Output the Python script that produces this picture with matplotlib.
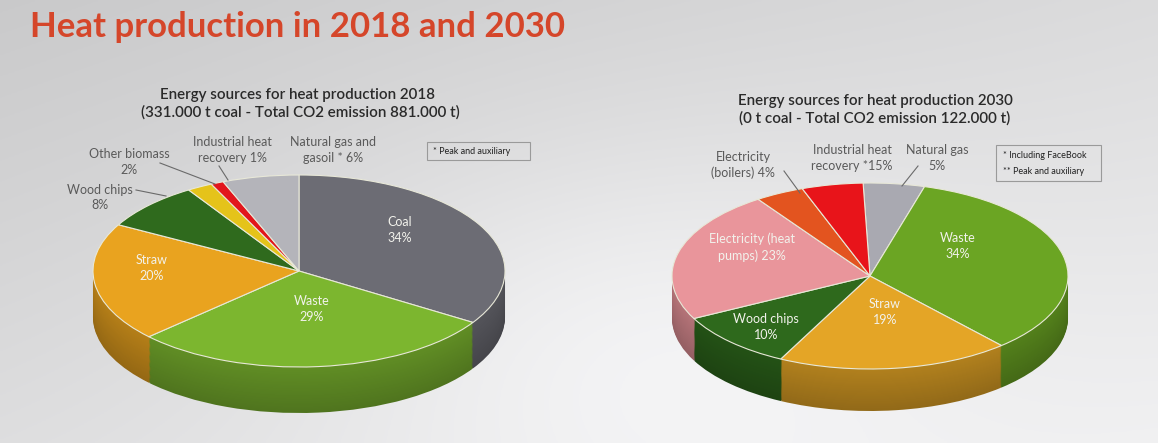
import numpy as np
import matplotlib
matplotlib.use("Agg")
import matplotlib.pyplot as plt
from matplotlib.colors import to_rgb
from matplotlib.patches import Rectangle

plt.rcParams['font.family'] = ['Lato', 'DejaVu Sans']

# data 2018
labels_2018 = ['Coal', 'Waste', 'Straw', 'Wood chips', 'Other biomass',
               'Industrial heat recovery', 'Natural gas and gasoil']
values_2018 = [34, 29, 20, 8, 2, 1, 6]
colors_2018 = ['#6c6c74', '#7cb62f', '#e9a31f', '#2f6a1d', '#e5c31a', '#e2161c', '#b4b4ba']

# data 2030
labels_2030 = ['Natural gas', 'Waste', 'Straw', 'Wood chips', 'Electricity (heat pumps)',
               'Electricity (boilers)', 'Industrial heat recovery']
values_2030 = [5, 34, 19, 10, 23, 4, 5]
colors_2030 = ['#a9a9b1', '#6ba523', '#e4a526', '#2e691c', '#e9959b', '#e3541f', '#e8141a']

W, H = 1158, 443


def darker(c, f):
    r, g, b = to_rgb(c)
    return (r * f, g * f, b * f)


def pie3d(fig, vals, cols, cx, cy, rx, ry, depth, start):
    # axes box in pixel units, one data unit = rx horizontally, ry vertically
    dd = depth / ry
    ax = fig.add_axes([(cx - rx) / W, (H - (cy + ry + depth)) / H,
                       2 * rx / W, (2 * ry + depth) / H])
    n = 40
    for i in range(n, 0, -1):
        f = 0.64 + 0.14 * (1 - i / n)
        ax.pie(vals, colors=[darker(c, f) for c in cols], startangle=start,
               counterclock=False, center=(0, -dd * i / n),
               wedgeprops=dict(linewidth=0))
    ax.pie(vals, colors=cols, startangle=start, counterclock=False,
           wedgeprops=dict(linewidth=0.8, edgecolor='#e8e8d8'))
    ax.set_aspect('auto')
    ax.set_xlim(-1, 1)
    ax.set_ylim(-1 - dd, 1)
    ax.axis('off')
    return ax


fig = plt.figure(figsize=(W / 100, H / 100), dpi=100)

# photo-like background
bg = fig.add_axes([0, 0, 1, 1])
yy, xx = np.mgrid[0:1:200j, 0:1:400j]
v = 0.79 + 0.07 * xx + 0.08 * yy + 0.06 * np.exp(-((xx - 0.55) ** 2 / 0.08 + (yy - 0.75) ** 2 / 0.2))
v = np.clip(v, 0, 1)
bg.imshow(np.dstack([v, v, v * 1.005]).clip(0, 1), extent=(0, W, H, 0), aspect='auto')
bg.set_xlim(0, W)
bg.set_ylim(H, 0)
bg.axis('off')

pie3d(fig, values_2018, colors_2018, 299, 271, 206, 96, 46, 90)
pie3d(fig, values_2030, colors_2030, 870, 276, 198, 93, 42, 92)

# overlay for all texts and leader lines
ov = fig.add_axes([0, 0, 1, 1])
ov.set_xlim(0, W)
ov.set_ylim(H, 0)
ov.axis('off')

ov.text(30, 27, 'Heat production in 2018 and 2030', fontsize=25, fontweight='bold',
        color='#d5462a', va='center', ha='left')

sub = dict(fontsize=10.9, fontweight='semibold', color='#2a2a2a', ha='center', va='center')
inside = dict(fontsize=9, color='#f2f2ec', ha='center', va='center', linespacing=1.4)
outside = dict(fontsize=9, color='#5a5a5a', ha='center', va='center', linespacing=1.3)
lead = dict(color='#6a6a6a', lw=0.8)

# left chart
ov.text(298, 95, 'Energy sources for heat production 2018', **sub)
ov.text(300, 112, '(331.000 t coal - Total CO2 emission 881.000 t)', **sub)

ov.text(400, 230, 'Coal\n34%', **inside)
ov.text(312, 309, 'Waste\n29%', **inside)
ov.text(152, 268, 'Straw\n20%', **inside)

ov.text(129, 162, 'Other biomass\n2%', **outside)
ov.text(232, 150, 'Industrial heat\nrecovery 1%', **outside)
ov.text(333, 150, 'Natural gas and\ngasoil * 6%', **outside)
ov.text(100, 197, 'Wood chips\n8%', **outside)
ov.plot([160, 215], [163, 184], **lead)
ov.plot([219, 228], [166, 180], **lead)
ov.plot([136, 166], [190, 196], **lead)

ov.add_patch(Rectangle((427, 142), 103, 18, fill=False, edgecolor='#9a9a9a', lw=0.8))
ov.text(433, 151, '* Peak and auxiliary', fontsize=6.5, color='#222222', va='center')

# right chart
ov.text(875, 101, 'Energy sources for heat production 2030', **sub)
ov.text(875, 118, '(0 t coal - Total CO2 emission 122.000 t)', **sub)

ov.text(958, 246, 'Waste\n34%', **inside)
ov.text(885, 312, 'Straw\n19%', **inside)
ov.text(752, 247, 'Electricity (heat\npumps) 23%', **inside)
ov.text(766, 327, 'Wood chips\n10%', **inside)

ov.text(743, 165, 'Electricity\n(boilers) 4%', **outside)
ov.text(852, 158, 'Industrial heat\nrecovery *15%', **outside)
ov.text(937, 158, 'Natural gas\n5%', **outside)
ov.plot([784, 800], [171, 193], **lead)
ov.plot([918, 902], [166, 186], **lead)

ov.add_patch(Rectangle((996, 145), 105, 36, fill=False, edgecolor='#9a9a9a', lw=0.8))
ov.text(1003, 156, '* Including FaceBook', fontsize=6.5, color='#222222', va='center')
ov.text(1003, 171, '** Peak and auxiliary', fontsize=6.5, color='#222222', va='center')

fig.savefig('out.png', dpi=100)
